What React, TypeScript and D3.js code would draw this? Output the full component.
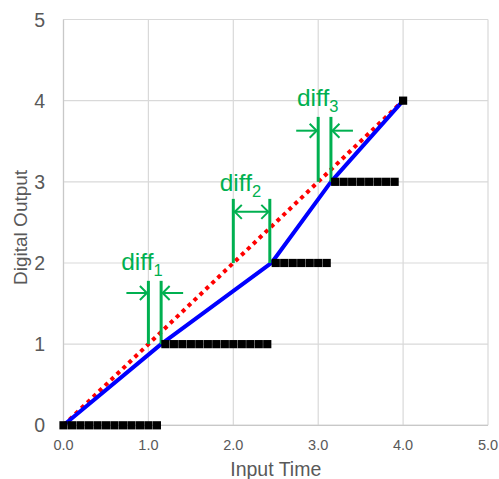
import React from "react";
import * as d3 from "d3";

const W = 499;
const H = 479;

// Data
const xTicks = [0, 1, 2, 3, 4, 5];
const yTicks = [0, 1, 2, 3, 4, 5];

const stepX = [
  0.0, 0.1, 0.2, 0.3, 0.4, 0.5, 0.6, 0.7, 0.8, 0.9, 1.0, 1.1,
  1.2, 1.3, 1.4, 1.5, 1.6, 1.7, 1.8, 1.9, 2.0, 2.1, 2.2, 2.3, 2.4,
  2.5, 2.6, 2.7, 2.8, 2.9, 3.0, 3.1,
  3.2, 3.3, 3.4, 3.5, 3.6, 3.7, 3.8, 3.9,
  4.0,
];
const stepY = [
  0, 0, 0, 0, 0, 0, 0, 0, 0, 0, 0, 0,
  1, 1, 1, 1, 1, 1, 1, 1, 1, 1, 1, 1, 1,
  2, 2, 2, 2, 2, 2, 2,
  3, 3, 3, 3, 3, 3, 3, 3,
  4,
];

const actualX = [0, 1.15, 2.45, 3.15, 4.0];
const actualY = [0, 1, 2, 3, 4];

const idealX = [0, 4];
const idealY = [0, 4];

// diff annotations (data coordinates)
const diffLabels = ["1", "2", "3"];
const diffLeftX = [1.0, 2.0, 3.0];
const diffRightX = [1.15, 2.43, 3.15];
const diffTopY = [1.78, 2.79, 3.8];
const diffBottomY = [1.0, 2.0, 3.0];
const diffArrowY = [1.63, 2.63, 3.63];
const diffInward = [true, false, true];
const diffLabelX = [0.68, 1.84, 2.75];
const diffLabelY = [1.91, 2.89, 3.94];

const GREEN = "#00b050";

export default function App() {
  const left = 63.5;
  const right = 488;
  const top = 19.5;
  const bottom = 425.3;

  const x = d3.scaleLinear().domain([0, 5]).range([left, right]);
  const y = d3.scaleLinear().domain([0, 5]).range([bottom, top]);

  const lineGen = d3
    .line<[number, number]>()
    .x((d) => x(d[0]))
    .y((d) => y(d[1]));

  const actualPts: [number, number][] = actualX.map((v, i) => [v, actualY[i]]);
  const idealPts: [number, number][] = idealX.map((v, i) => [v, idealY[i]]);

  const font = "Liberation Sans, Arial, sans-serif";
  const ms = 8.2;

  const arrowLen = 22;
  const head = 7;

  return (
    <svg
      width={W}
      height={H}
      style={{ position: "absolute", left: 0, top: 0, display: "block", background: "#fff" }}
      fontFamily={font}
    >
      {/* grid */}
      {xTicks.map((t) => (
        <line key={"gx" + t} x1={x(t)} x2={x(t)} y1={top} y2={bottom} stroke="#d9d9d9" strokeWidth={1.2} />
      ))}
      {yTicks.map((t) => (
        <line key={"gy" + t} x1={left} x2={right} y1={y(t)} y2={y(t)} stroke="#d9d9d9" strokeWidth={1.2} />
      ))}
      <line x1={left} x2={left} y1={top} y2={bottom} stroke="#c8c8c8" strokeWidth={1.2} />
      <line x1={left} x2={right} y1={bottom} y2={bottom} stroke="#c8c8c8" strokeWidth={1.2} />

      {/* tick labels */}
      {yTicks.map((t) => (
        <text key={"ty" + t} x={45} y={y(t) + 7} textAnchor="end" fontSize={19.5} fill="#595959">
          {t}
        </text>
      ))}
      {xTicks.map((t) => (
        <text key={"tx" + t} x={x(t)} y={450} textAnchor="middle" fontSize={14.5} fill="#595959">
          {d3.format(".1f")(t)}
        </text>
      ))}

      {/* axis titles */}
      <text x={(left + right) / 2} y={476} textAnchor="middle" fontSize={19.5} fill="#595959">
        Input Time
      </text>
      <text
        transform={`translate(27, ${(top + bottom) / 2 + 5}) rotate(-90)`}
        textAnchor="middle"
        fontSize={19}
        fill="#595959"
      >
        Digital Output
      </text>

      {/* ideal red dotted */}
      <path d={lineGen(idealPts) || ""} fill="none" stroke="#ff0000" strokeWidth={4} strokeDasharray="4 4.2" />
      {/* actual blue */}
      <path d={lineGen(actualPts) || ""} fill="none" stroke="#0000ff" strokeWidth={4} strokeLinejoin="round" />

      {/* diff annotations */}
      {diffLabels.map((lab, i) => {
        const xl = x(diffLeftX[i]);
        const xr = x(diffRightX[i]);
        const yt = y(diffTopY[i]);
        const ya = y(diffArrowY[i]);
        const yb = y(diffBottomY[i]);
        return (
          <g key={"diff" + i} stroke={GREEN} fill="none">
            <line x1={xl} x2={xl} y1={yt} y2={yb} strokeWidth={3} />
            <line x1={xr} x2={xr} y1={yt} y2={yb} strokeWidth={3} />
            {diffInward[i] ? (
              <>
                <line x1={xl - arrowLen} x2={xl - 1.5} y1={ya} y2={ya} strokeWidth={2} />
                <polyline points={`${xl - 1.5 - head},${ya - head} ${xl - 1.5},${ya} ${xl - 1.5 - head},${ya + head}`} strokeWidth={2} />
                <line x1={xr + arrowLen} x2={xr + 1.5} y1={ya} y2={ya} strokeWidth={2} />
                <polyline points={`${xr + 1.5 + head},${ya - head} ${xr + 1.5},${ya} ${xr + 1.5 + head},${ya + head}`} strokeWidth={2} />
              </>
            ) : (
              <>
                <line x1={xl + 1.5} x2={xr - 1.5} y1={ya} y2={ya} strokeWidth={2} />
                <polyline points={`${xl + 1.5 + head},${ya - head} ${xl + 1.5},${ya} ${xl + 1.5 + head},${ya + head}`} strokeWidth={2} />
                <polyline points={`${xr - 1.5 - head},${ya - head} ${xr - 1.5},${ya} ${xr - 1.5 - head},${ya + head}`} strokeWidth={2} />
              </>
            )}
            <text x={x(diffLabelX[i])} y={y(diffLabelY[i])} fontSize={24.5} fill={GREEN} stroke="none">
              diff
              <tspan fontSize={16.5} dy={6}>
                {lab}
              </tspan>
            </text>
          </g>
        );
      })}

      {/* step markers */}
      {stepX.map((v, i) => (
        <rect
          key={"m" + i}
          x={x(v) - ms / 2}
          y={y(stepY[i]) - ms / 2}
          width={ms}
          height={ms}
          fill="#000"
        />
      ))}
    </svg>
  );
}
